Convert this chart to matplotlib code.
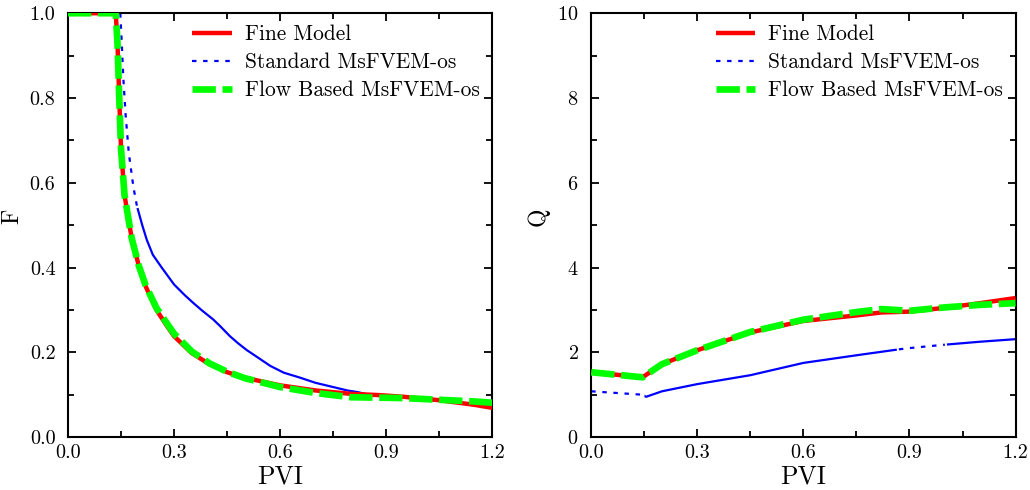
import numpy as np
import matplotlib
matplotlib.use("Agg")
import matplotlib.pyplot as plt
from matplotlib.ticker import MultipleLocator, FormatStrFormatter

plt.rcParams['font.family'] = ['cmr10', 'DejaVu Serif']
plt.rcParams['axes.formatter.use_mathtext'] = True

labels = ['Fine Model', 'Standard MsFVEM-os', 'Flow Based MsFVEM-os']

# fractional flow F vs PVI
f_fine_x = [0.0, 0.135, 0.14, 0.145, 0.15, 0.16, 0.18, 0.2, 0.22, 0.25, 0.28, 0.3,
            0.35, 0.4, 0.45, 0.5, 0.6, 0.7, 0.8, 0.88, 0.95, 1.05, 1.15, 1.2]
f_fine_y = [1.0, 1.0, 0.93, 0.80, 0.68, 0.57, 0.47, 0.405, 0.355, 0.30, 0.262, 0.238,
            0.198, 0.172, 0.153, 0.14, 0.122, 0.11, 0.102, 0.099, 0.095, 0.087, 0.076, 0.069]
f_flow_x = [0.0, 0.135, 0.14, 0.145, 0.15, 0.16, 0.18, 0.2, 0.22, 0.25, 0.28, 0.3,
            0.35, 0.4, 0.45, 0.5, 0.6, 0.7, 0.8, 0.88, 0.95, 1.05, 1.15, 1.2]
f_flow_y = [1.0, 1.0, 0.93, 0.80, 0.68, 0.57, 0.47, 0.405, 0.357, 0.305, 0.268, 0.244,
            0.202, 0.174, 0.154, 0.139, 0.118, 0.104, 0.094, 0.093, 0.092, 0.088, 0.084, 0.081]
f_std_x = [0.0, 0.148, 0.152, 0.157, 0.163, 0.172, 0.185, 0.195, 0.21, 0.223, 0.24, 0.265,
           0.30, 0.33, 0.355, 0.38, 0.41, 0.43, 0.458, 0.48, 0.506, 0.54, 0.572, 0.61,
           0.657, 0.70, 0.75, 0.79, 0.82, 0.85, 0.9, 0.95, 1.0, 1.05, 1.1, 1.15, 1.2]
f_std_y = [1.0, 1.0, 0.93, 0.84, 0.76, 0.67, 0.59, 0.545, 0.50, 0.465, 0.43, 0.40,
           0.36, 0.335, 0.316, 0.298, 0.278, 0.262, 0.238, 0.222, 0.205, 0.186, 0.168, 0.152,
           0.140, 0.128, 0.118, 0.110, 0.106, 0.100, 0.097, 0.094, 0.090, 0.086, 0.081, 0.077, 0.073]

# Q vs PVI
q_fine_x = [0.0, 0.145, 0.2, 0.3, 0.45, 0.6, 0.75, 0.82, 0.9, 1.0, 1.1, 1.2]
q_fine_y = [1.53, 1.41, 1.72, 2.05, 2.47, 2.74, 2.87, 2.94, 2.96, 3.05, 3.16, 3.28]
q_flow_x = [0.0, 0.145, 0.2, 0.3, 0.45, 0.6, 0.75, 0.82, 0.9, 1.0, 1.1, 1.2]
q_flow_y = [1.53, 1.41, 1.72, 2.05, 2.48, 2.77, 2.95, 3.02, 2.98, 3.06, 3.12, 3.16]
q_std_x = [0.0, 0.145, 0.155, 0.2, 0.3, 0.45, 0.6, 0.75, 0.87, 0.9, 0.95, 1.0, 1.1, 1.2]
q_std_y = [1.08, 1.0, 0.95, 1.08, 1.25, 1.46, 1.75, 1.93, 2.07, 2.1, 2.14, 2.18, 2.25, 2.31]

fig = plt.figure(figsize=(10.3, 4.9), dpi=100)
ax1 = fig.add_axes([0.066, 0.108, 0.412, 0.865])
ax2 = fig.add_axes([0.574, 0.108, 0.412, 0.865])

red = '#ff0000'
blue = '#0000ff'
green = '#00ff00'


def draw_std(ax, x, y, dot_ranges):
    x = np.asarray(x)
    y = np.asarray(y)
    # sparse parts of the standard curve look dotted, dense parts solid
    ax.plot(x, y, color=blue, lw=1.6, zorder=2)
    for lo, hi in dot_ranges:
        m = (x >= lo) & (x <= hi)
        ax.plot(x[m], y[m], color='white', lw=3.0, zorder=2.1)
        ax.plot(x[m], y[m], color=blue, lw=1.6, ls=(0, (2, 3)), zorder=2.2)
    return ax.plot([], [], color=blue, lw=1.6, ls=(0, (2, 3)))[0]


for ax, fx, fy, sx, sy, gx, gy, dots in [
        (ax1, f_fine_x, f_fine_y, f_std_x, f_std_y, f_flow_x, f_flow_y,
         [(0.14, 0.195)]),
        (ax2, q_fine_x, q_fine_y, q_std_x, q_std_y, q_flow_x, q_flow_y,
         [(0.0, 0.145), (0.87, 1.0)])]:
    h_std = draw_std(ax, sx, sy, dots)
    h_fine, = ax.plot(fx, fy, color=red, lw=3.2, zorder=3, solid_capstyle='butt')
    h_flow, = ax.plot(gx, gy, color=green, lw=4.8, ls=(0, (3.5, 1.0)), zorder=4)
    ax.legend([h_fine, h_std, h_flow], labels, loc='upper right', frameon=False,
              fontsize=15.4, handlelength=1.85, handletextpad=0.6, labelspacing=0.4,
              borderaxespad=0.0, bbox_to_anchor=(0.99, 0.993))
    ax.set_xlim(0, 1.2)
    ax.xaxis.set_major_locator(MultipleLocator(0.3))
    ax.xaxis.set_minor_locator(MultipleLocator(0.15))
    ax.xaxis.set_major_formatter(FormatStrFormatter('%.1f'))
    ax.set_xlabel('PVI', fontsize=18.5, labelpad=2)
    ax.tick_params(which='both', direction='in', top=True, right=True,
                   labelsize=14.5)
    ax.tick_params(axis='x', pad=5)
    ax.tick_params(axis='y', pad=9)
    ax.tick_params(which='major', length=6, width=1.3)
    ax.tick_params(which='minor', length=4, width=1.3)
    for s in ax.spines.values():
        s.set_linewidth(1.5)

ax1.set_ylim(0, 1.0)
ax1.yaxis.set_major_locator(MultipleLocator(0.2))
ax1.yaxis.set_minor_locator(MultipleLocator(0.1))
ax1.yaxis.set_major_formatter(FormatStrFormatter('%.1f'))
ax1.set_ylabel('F', fontsize=17)
ax1.yaxis.set_label_coords(-0.106, 0.52)

ax2.set_ylim(0, 10)
ax2.yaxis.set_major_locator(MultipleLocator(2))
ax2.yaxis.set_minor_locator(MultipleLocator(1))
ax2.set_ylabel('Q', fontsize=17)
ax2.yaxis.set_label_coords(-0.097, 0.52)

fig.savefig('out.png', dpi=100)
